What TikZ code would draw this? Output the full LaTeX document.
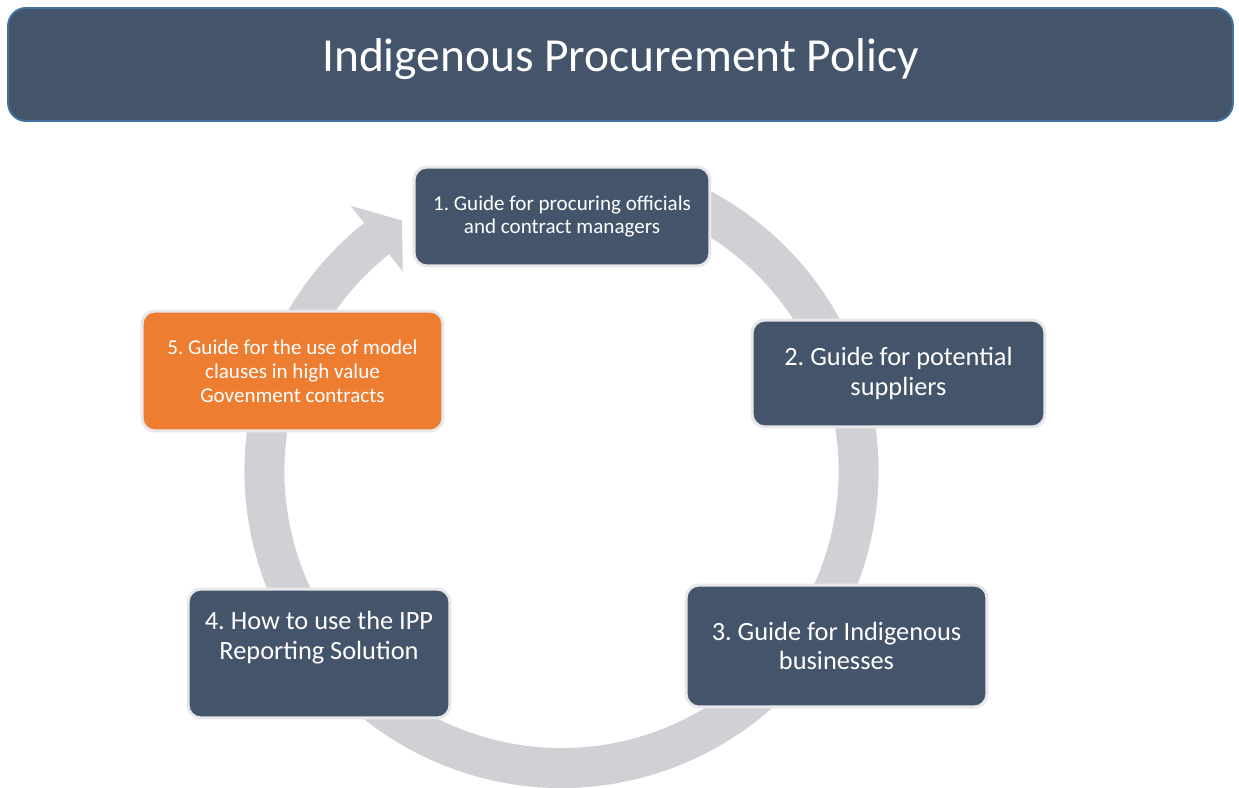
\documentclass[tikz,border=0pt]{standalone}
\usepackage{fontspec}
\setmainfont{Carlito}
\usetikzlibrary{positioning}
\definecolor{slate}{RGB}{68,84,106}
\definecolor{titleedge}{RGB}{65,113,156}
\definecolor{boxedge}{RGB}{232,232,234}
\definecolor{ringgrey}{RGB}{208,209,213}
\definecolor{clauseorange}{RGB}{237,125,49}
\frenchspacing

\begin{document}
\begin{tikzpicture}[x=0.02cm,y=-0.02cm,
  guide/.style={draw=boxedge, line width=0.06cm, fill=slate, rounded corners=0.26cm,
    text=white, align=center, inner sep=0pt},
  small/.style={font=\fontsize{12}{13.6}\selectfont},
  large/.style={font=\fontsize{15}{17}\selectfont},
  ring/.style={draw=ringgrey, line width=0.8cm}]
\useasboundingbox (0,0) rectangle (1239,787);

% title bar
\node[draw=titleedge, line width=0.04cm, fill=slate, rounded corners=0.36cm,
  minimum width=24.5cm, minimum height=2.26cm, text=white, text depth=0.38cm,
  font=\fontsize{27}{32}\selectfont] (title) at (620.5,64.5) {Indigenous Procurement Policy};

% ring behind the guides
\coordinate (c) at (561.5,471);
\draw[ring] ([shift={(-70:297)}]c) arc[start angle=-70, end angle=232, radius=297];
\fill[ringgrey] ([shift={(231.5:255)}]c) -- ([shift={(237.5:297)}]c)
  -- ([shift={(231.5:339)}]c) -- cycle;

% the five guides
\node[guide, small, minimum width=5.92cm, minimum height=1.98cm] (g1) at (562,216.5)
  {1. Guide for procuring officials\\and contract managers};
\node[guide, large, minimum width=5.86cm, minimum height=2.14cm] (g2) at (898.5,373.5)
  {2. Guide for potential\\suppliers};
\node[guide, large, minimum width=6.02cm, minimum height=2.44cm] (g3) at (836.5,646)
  {3. Guide for Indigenous\\businesses};
\node[guide, large, minimum width=5.24cm, minimum height=2.58cm] (g4) at (319,653.5)
  {4. How to use the IPP\\Reporting Solution\\[4pt] ~};
\node[guide, small, fill=clauseorange, minimum width=6.02cm, minimum height=2.4cm] (g5) at (292.5,371)
  {5. Guide for the use of model\\clauses in high value\\Govenment contracts};
\end{tikzpicture}
\end{document}
